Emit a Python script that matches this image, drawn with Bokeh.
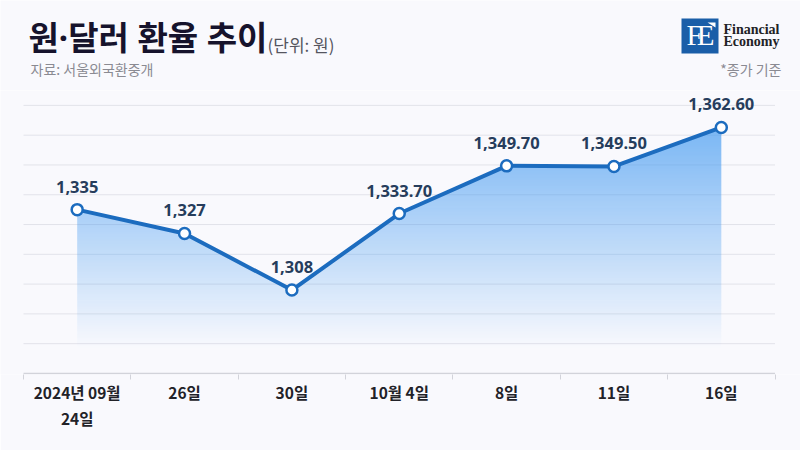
import numpy as np
from bokeh.plotting import figure
from bokeh.layouts import column
from bokeh.models import FixedTicker, Range1d
from bokeh.core.properties import value
from bokeh.embed import file_html
from bokeh.resources import INLINE

# ---- data ----
categories = ["2024년 09월\n24일", "26일", "30일", "10월 4일", "8일", "11일", "16일"]
rates = [1335.0, 1327.0, 1308.0, 1333.7, 1349.7, 1349.5, 1362.6]
rate_labels = ["1,335", "1,327", "1,308", "1,333.70", "1,349.70", "1,349.50", "1,362.60"]
y_ticks = [1290, 1300, 1310, 1320, 1330, 1340, 1350, 1360, 1370]
y_base = 1280

BG = "#f9f9fd"
LINE = "#1c6cbf"
KR = "Noto Sans CJK KR"
MIX = "Noto Sans, Noto Sans CJK KR"
SERIF = "Liberation Serif"
SHIFT = 0.38  # baseline correction (em)

# ================= header (pixel coordinates, y downward) =================
WIDTH, HEAD_H, MAIN_H = 800, 90, 360
h = figure(width=WIDTH, height=HEAD_H, output_backend="svg", toolbar_location=None,
           x_range=Range1d(0, WIDTH), y_range=Range1d(HEAD_H, 0),
           min_border=0, min_border_left=0, min_border_right=0,
           min_border_top=0, min_border_bottom=0)
h.axis.visible = False
h.grid.visible = False
h.background_fill_color = BG
h.border_fill_color = BG
h.outline_line_color = None

def htext(x, y, t, size, color, font=KR, style="normal", align="left"):
    h.text([x], [y - SHIFT * size], text=[t], text_font=value(font), text_font_size=f"{size}px",
           text_font_style=style, text_color=color, text_align=align,
           text_baseline="alphabetic")

htext(28, 50, "원·달러 환율 추이", 33, "#16132c", font=MIX, style="bold")
htext(267, 50, "(단위: 원)", 17, "#55555f")
htext(30, 74, "자료: 서울외국환중개", 14, "#8a8a92")
htext(781, 74, "*종가 기준", 14, "#8a8a92", align="right")

# logo
LX, LY, LW, LH = 681, 18, 37, 35
h.quad(left=[LX], right=[LX + LW], top=[LY], bottom=[LY + LH], fill_color="#1a5ea8", line_color=None)
h.patch([LX + 26, LX + 34, LX + 34], [LY + 4, LY + 4, LY + 9], fill_color="white", line_color=None)
htext(LX + 13, LY + 28, "F", 29, "white", font=SERIF, align="center")
htext(LX + 24, LY + 28, "E", 29, "white", font=SERIF, align="center")
htext(723, 34, "Financial", 14, "#222226", font=SERIF, style="bold")
htext(723, 46, "Economy", 14, "#222226", font=SERIF, style="bold")

# ================= main chart =================
n = len(categories)
xs = [i + 0.5 for i in range(n)]
PL, PR = 23.0, 774.5            # plot area edges in page pixels
ppc = (PR - PL) / n             # pixels per category
y0, y1 = y_base - 0.35, 1375

p = figure(width=WIDTH, height=MAIN_H, output_backend="svg", toolbar_location=None,
           x_range=Range1d(-PL / ppc, n + (WIDTH - PR) / ppc), y_range=Range1d(y0, y1),
           min_border_left=0, min_border_right=0, min_border_top=0, min_border_bottom=76)
p.background_fill_color = BG
p.border_fill_color = BG
p.outline_line_color = None
p.grid.visible = False
p.yaxis.visible = False

# horizontal grid lines + base line within the plot area
p.segment(x0=0, x1=n, y0=y_ticks, y1=y_ticks, line_color="#e2e3ea", line_width=1)
p.segment(x0=[0], x1=[n], y0=[y_base], y1=[y_base], line_color="#d2d3da", line_width=1.5)

p.xaxis.ticker = FixedTicker(ticks=xs, minor_ticks=list(range(n + 1)))
p.xaxis.major_label_overrides = {x: c for x, c in zip(xs, categories)}
p.xaxis.axis_line_color = None
p.xaxis.major_tick_line_color = None
p.xaxis.major_tick_out = 0
p.xaxis.major_tick_in = 0
p.xaxis.minor_tick_line_color = "#d2d3da"
p.xaxis.minor_tick_out = 5
p.xaxis.minor_tick_in = 0
p.xaxis.major_label_standoff = 1
p.xaxis.major_label_text_font = KR
p.xaxis.major_label_text_font_style = "bold"
p.xaxis.major_label_text_font_size = "15.5px"
p.xaxis.major_label_text_color = "#222228"

# gradient area under the line (image built from the data)
W, H = 800, 320
x_start, x_end = xs[0], xs[-1]
col_x = x_start + (np.arange(W) + 0.5) / W * (x_end - x_start)
line_at = np.interp(col_x, xs, rates)
row_y = y_base + (np.arange(H) + 0.5) / H * (y1 - y_base)
top_v, bot_v = max(rates), 1288.0
alpha = np.clip((row_y - bot_v) / (top_v - bot_v), 0, 1) * 0.68
A = np.where(row_y[:, None] <= line_at[None, :], alpha[:, None], 0.0)
img = np.zeros((H, W), dtype=np.uint32)
view = img.view(dtype=np.uint8).reshape((H, W, 4))
view[:, :, 0] = 60
view[:, :, 1] = 150
view[:, :, 2] = 240
view[:, :, 3] = (A * 255).astype(np.uint8)
p.image_rgba(image=[img], x=x_start, y=y_base, dw=x_end - x_start, dh=y1 - y_base)

p.line(xs, rates, line_width=4, line_color=LINE)
p.scatter(xs, rates, size=11, fill_color="white", line_color=LINE, line_width=2.5)

p.text(xs, rates, text=rate_labels, text_align="center", text_baseline="alphabetic",
       y_offset=-23, text_font=value("Noto Sans"), text_font_style="bold",
       text_font_size="16.5px", text_color="#263d5c")

layout = column(h, p, spacing=0)
open("out.html", "w").write(file_html(layout, INLINE))
